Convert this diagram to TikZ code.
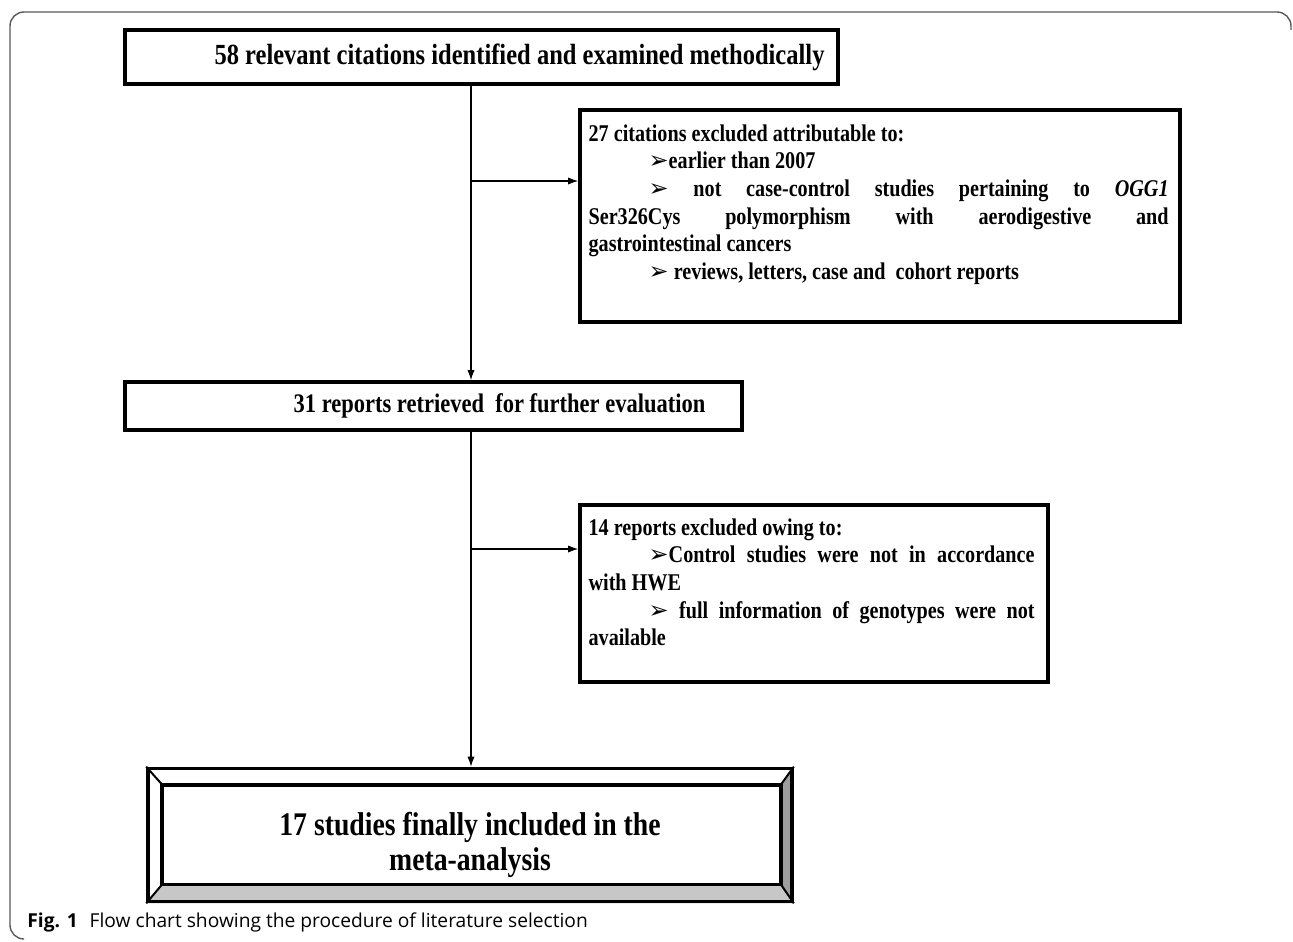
\documentclass[tikz,border=0pt]{standalone}
\usepackage{fontspec}
\setmainfont{Liberation Serif}[FakeStretch=0.84]
\newfontfamily\capfont{Open Sans}
\newfontfamily\dingfont{DejaVu Sans}
\usetikzlibrary{arrows.meta,calc,backgrounds}
\newcommand{\pick}{{\dingfont\bfseries\char"27A2}}

\begin{document}
\begin{tikzpicture}[x=0.5pt,y=-0.5pt,
  box/.style={draw,line width=1.8pt,inner sep=0pt},
  listtext/.style={anchor=north west,inner sep=0pt,align=justify,
    font=\fontsize{12}{13.8}\selectfont\bfseries\setlength{\parindent}{0pt}},
  flow/.style={-{Latex[length=5pt,width=3.6pt]},line width=0.6pt}]
\useasboundingbox (0,0) rectangle (1293,941);
% outer frame of the figure
\draw[black!65,line width=0.7pt,rounded corners=7pt] (1291,30) -- (1291,12) -- (10,12) -- (10,939) -- (22,939);

% main column
\node [box,minimum width=356.5pt,minimum height=27pt,font=\fontsize{14.6}{16}\selectfont\bfseries] (cit) at (481.5,57) {\hspace*{38pt}58 relevant citations identified and examined methodically};
\node [box,minimum width=308.5pt,minimum height=24pt,font=\fontsize{13.4}{16}\selectfont\bfseries] (ret) at (433.5,406) {\hspace*{66pt}31 reports retrieved\ \ for further evaluation};
\node [box,minimum width=322pt,minimum height=66.5pt,align=center,font=\fontsize{16.5}{17.5}\selectfont\bfseries] (res) at (470,835) {\rule{0pt}{22pt}17 studies finally included in the\\meta-analysis};

% exclusion boxes
\node [box,minimum width=300pt,minimum height=106pt] (ex1) at (880,216) {};
\node [listtext,text width=290pt] (ex1t) at ($(ex1.north west)+(5pt,-8pt)$) {%
27 citations excluded attributable to:\par
\hspace*{30pt}\pick earlier than 2007\par
\hspace*{30pt}\pick\ not case-control studies pertaining to \textit{OGG1}\linebreak
Ser326Cys polymorphism with aerodigestive and\linebreak
gastrointestinal cancers\par
\hspace*{30pt}\pick\ reviews, letters, case and\ \ cohort reports};
\node [box,minimum width=234pt,minimum height=88.5pt] (ex2) at (814,593.5) {};
\node [listtext,text width=223pt] (ex2t) at ($(ex2.north west)+(5pt,-7.5pt)$) {%
14 reports excluded owing to:\par
\hspace*{30pt}\pick Control studies were not in accordance\linebreak
with HWE\par
\hspace*{30pt}\pick\ full information of genotypes were not\linebreak
available};

% bevel of the last box
\coordinate (ri1) at ($(res.north west)+(8pt,-9pt)$);
\coordinate (ri2) at ($(res.north east)+(-6.5pt,-9pt)$);
\coordinate (ri3) at ($(res.south east)+(-6.5pt,9.5pt)$);
\coordinate (ri4) at ($(res.south west)+(8pt,9.5pt)$);
\begin{scope}[on background layer]
\fill[black!22] (res.south west) -- (ri4) -- (ri3) -- (res.south east) -- cycle;
\fill[black!38] (res.south east) -- (ri3) -- (ri2) -- (res.north east) -- cycle;
\end{scope}
\draw[line width=1pt] (res.north west) -- (ri1) (res.north east) -- (ri2)
  (res.south east) -- (ri3) (res.south west) -- (ri4);
\draw[line width=1.8pt] (ri1) rectangle (ri3);

% connectors
\coordinate (j1) at (471,181);
\coordinate (j2) at (471,549);
\draw[flow] (cit.south -| j1) -- (ret.north -| j1);
\draw[flow] (j1) -- (j1 -| ex1.west);
\draw[flow] (ret.south -| j2) -- (res.north -| j2);
\draw[flow] (j2) -- (j2 -| ex2.west);

% caption
\node [anchor=west,inner sep=0pt,font=\capfont\fontsize{9.6}{10}\selectfont] (cap) at (27,922) {\textbf{Fig. 1}\hspace{6pt}Flow chart showing the procedure of literature selection};
\end{tikzpicture}
\end{document}
